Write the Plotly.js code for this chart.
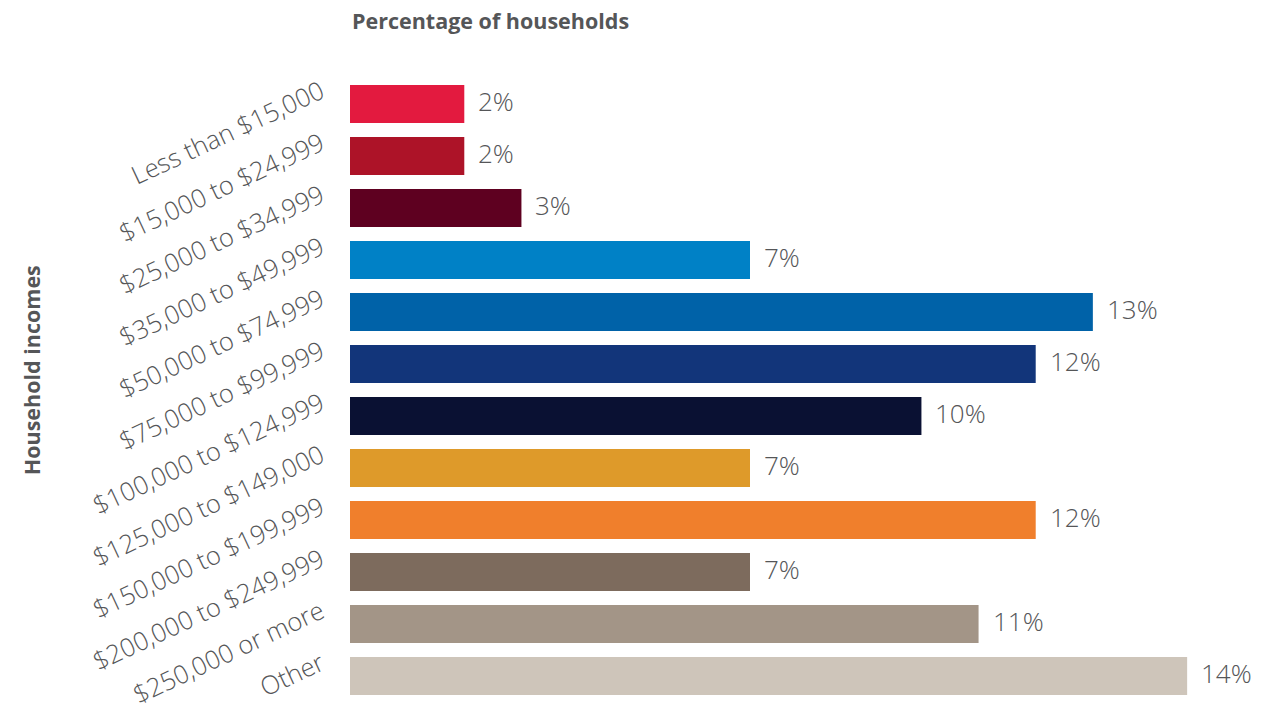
<!DOCTYPE html>
<html>
<head>
<meta charset="utf-8">
<script src="https://cdn.plot.ly/plotly-3.0.1.min.js"></script>
<style>html,body{margin:0;padding:0;background:#fff;}#chart{width:1270px;height:705px;}</style>
</head>
<body>
<div id="chart"></div>
<script>
const categories = ["Less than $15,000","$15,000 to $24,999","$25,000 to $34,999","$35,000 to $49,999","$50,000 to $74,999","$75,000 to $99,999","$100,000 to $124,999","$125,000 to $149,000","$150,000 to $199,999","$200,000 to $249,999","$250,000 or more","Other"];
const values = [2, 2, 3, 7, 13, 12, 10, 7, 12, 7, 11, 14.65];
const valueLabels = ["2%","2%","3%","7%","13%","12%","10%","7%","12%","7%","11%","14%"];
const colors = ["#E31A3F","#AD1328","#5E0020","#0081C6","#0062A8","#12357A","#0A1133","#DE9A2A","#F07F2C","#7D6B5D","#A39587","#CEC5BA"];

const textColor = "#555658";
const bodyFont = "Open Sans, DejaVu Sans, sans-serif";
const titleFont = "Open Sans, sans-serif";

const trace = {
  type: "bar",
  orientation: "h",
  y: categories,
  x: values,
  marker: {color: colors},
  hoverinfo: "none"
};

const annotations = categories.map((c, i) => ({
  x: values[i], y: c, xref: "x", yref: "y",
  text: valueLabels[i], showarrow: false,
  xanchor: "left", yanchor: "middle", xshift: 12, yshift: 3,
  font: {family: bodyFont, size: 26, weight: 300, color: textColor}
}));

annotations.push({
  xref: "paper", yref: "paper", x: -0.3465, y: 0.532,
  text: "<b>Household incomes</b>", showarrow: false, textangle: -90,
  xanchor: "center", yanchor: "middle",
  font: {family: titleFont, size: 21.5, color: textColor}
});
annotations.push({
  xref: "paper", yref: "paper", x: 0, y: 1.0, yshift: 58,
  text: "<b>Percentage of households</b>", showarrow: false,
  xanchor: "left", yanchor: "middle",
  font: {family: titleFont, size: 21.5, color: textColor}
});

const layout = {
  width: 1270, height: 705,
  margin: {l: 350, r: 0, t: 78, b: 3, pad: 0},
  paper_bgcolor: "#fff", plot_bgcolor: "#fff",
  showlegend: false,
  bargap: 0.27,
  xaxis: {range: [0, 16.1], visible: false, fixedrange: true},
  yaxis: {
    autorange: "reversed", type: "category",
    tickangle: -25, ticks: "outside", ticklen: 23, tickcolor: "rgba(0,0,0,0)",
    ticklabelshift: 15,
    showline: false, showgrid: false, zeroline: false,
    tickfont: {family: bodyFont, size: 25.5, weight: 300, color: textColor}
  },
  annotations: annotations
};

Plotly.newPlot("chart", [trace], layout, {displayModeBar: false, staticPlot: true});
</script>
</body>
</html>
